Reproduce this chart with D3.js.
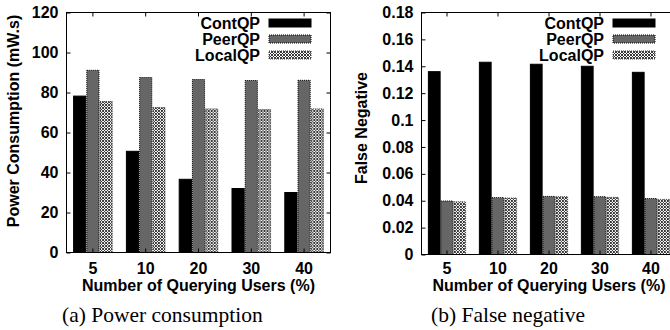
<!DOCTYPE html>
<html>
<head>
<meta charset="utf-8">
<script src="https://cdn.jsdelivr.net/npm/d3@7"></script>
<style>
  body { margin: 0; background: #fff; }
  svg { display: block; }
  .tick text, .lbl { font-family: "Liberation Sans", Arial, sans-serif; font-weight: bold; fill: #000; }
  .cap { font-family: "Liberation Serif", "Times New Roman", serif; fill: #000; }
</style>
</head>
<body>
<div id="graph"></div>
<script>
// categories and series
const categories = ["5", "10", "20", "30", "40"];
const seriesNames = ["ContQP", "PeerQP", "LocalQP"];

// (a) power consumption, mW.s
const powerCont = [78.2, 50.6, 36.6, 32.0, 30.0];
const powerPeer = [91.1, 87.5, 86.5, 86.0, 86.1];
const powerLocal = [75.5, 72.5, 71.8, 71.5, 71.8];
const powerTicks = [0, 20, 40, 60, 80, 100, 120];
const powerTickLabels = ["0", "20", "40", "60", "80", "100", "120"];

// (b) false negative
const fnCont = [0.136, 0.143, 0.1415, 0.140, 0.1355];
const fnPeer = [0.0398, 0.0423, 0.0432, 0.0430, 0.0416];
const fnLocal = [0.0392, 0.0420, 0.0430, 0.0425, 0.0410];
const fnTicks = [0, 0.02, 0.04, 0.06, 0.08, 0.1, 0.12, 0.14, 0.16, 0.18];
const fnTickLabels = ["0", "0.02", "0.04", "0.06", "0.08", "0.1", "0.12", "0.14", "0.16", "0.18"];

const width = 670, height = 330;
const fontSize = 16;

const svg = d3.select("#graph")
  .append("svg")
  .attr("width", width)
  .attr("height", height);

// fill patterns
const defs = svg.append("defs");
const pat = defs.append("pattern")
  .attr("id", "checker")
  .attr("patternUnits", "userSpaceOnUse")
  .attr("width", 3)
  .attr("height", 3);
pat.append("rect").attr("width", 3).attr("height", 3).attr("fill", "#fff");
pat.append("path").attr("d", "M0,0L3,3M3,0L0,3").attr("stroke", "#222").attr("stroke-width", 0.9);

const barStyle = {
  ContQP: { fill: "#000", stroke: "#000", dash: null },
  PeerQP: { fill: "#666", stroke: "#000", dash: "1,1" },
  LocalQP: { fill: "url(#checker)", stroke: "#444", dash: "1,1" }
};

function drawPanel(opt) {
  const g = svg.append("g");

  const x = d3.scaleBand()
    .domain(categories)
    .range([opt.left, opt.right])
    .paddingInner(0.25)
    .paddingOuter(0.125);

  const xs = d3.scaleBand()
    .domain(seriesNames)
    .range([0, x.bandwidth()]);

  const y = d3.scaleLinear()
    .domain(opt.domain)
    .range([opt.bottom, opt.top]);

  const rows = categories.map((c, i) => ({
    cat: c,
    vals: seriesNames.map((s, j) => ({ s: s, v: opt.series[j][i] }))
  }));

  // bars
  const grp = g.selectAll(".grp")
    .data(rows)
    .enter()
    .append("g")
    .attr("transform", d => "translate(" + x(d.cat) + ",0)");

  grp.selectAll("rect")
    .data(d => d.vals)
    .enter()
    .append("rect")
      .attr("x", d => xs(d.s) + 0.5)
      .attr("y", d => y(d.v))
      .attr("width", xs.bandwidth() - 1)
      .attr("height", d => y(0) - y(d.v))
      .attr("fill", d => barStyle[d.s].fill)
      .attr("stroke", d => barStyle[d.s].stroke)
      .attr("stroke-dasharray", d => barStyle[d.s].dash)
      .attr("stroke-width", 1);

  // axes, gnuplot style ticks pointing inward
  g.append("g")
    .attr("transform", "translate(" + opt.left + ",0)")
    .call(d3.axisLeft(y)
      .tickValues(opt.ticks)
      .tickFormat((d, i) => opt.tickLabels[i])
      .tickSizeInner(-4)
      .tickSizeOuter(0)
      .tickPadding(8));

  g.append("g")
    .attr("transform", "translate(" + opt.right + ",0)")
    .call(d3.axisRight(y).tickValues(opt.ticks).tickFormat("").tickSizeInner(-4).tickSizeOuter(0));

  const xAxis = g.append("g")
    .attr("transform", "translate(0," + opt.bottom + ")")
    .call(d3.axisBottom(x).tickSizeInner(-4).tickSizeOuter(0).tickPadding(0));

  // tick labels: baseline a little under the frame
  xAxis.selectAll(".tick text")
    .attr("y", 0)
    .attr("dy", null)
    .attr("transform", "translate(0," + (274 - opt.bottom) + ")");

  g.append("g")
    .attr("transform", "translate(0," + opt.top + ")")
    .call(d3.axisTop(x).tickFormat("").tickSizeInner(-4).tickSizeOuter(0));

  g.selectAll(".domain").remove();
  g.selectAll(".tick line").attr("stroke", "#000");
  g.selectAll(".tick text").attr("font-size", fontSize);

  // frame
  g.append("rect")
    .attr("x", opt.left)
    .attr("y", opt.top)
    .attr("width", opt.right - opt.left)
    .attr("height", opt.bottom - opt.top)
    .attr("fill", "none")
    .attr("stroke", "#000")
    .attr("stroke-width", 1);

  // axis titles
  g.append("text")
    .attr("class", "lbl")
    .attr("x", (opt.left + opt.right) / 2)
    .attr("y", 291)
    .attr("text-anchor", "middle")
    .attr("font-size", fontSize)
    .text("Number of Querying Users (%)");

  g.append("text")
    .attr("class", "lbl")
    .attr("transform", "translate(" + opt.ylabelX + "," + opt.ylabelY + ")rotate(-90)")
    .attr("text-anchor", "middle")
    .attr("font-size", fontSize)
    .text(opt.ylabel);

  // legend
  const lg = g.selectAll(".leg")
    .data(seriesNames)
    .enter()
    .append("g")
    .attr("transform", (d, i) => "translate(" + opt.legendX + "," + (opt.top + 10.5 + i * 16) + ")");

  lg.append("text")
    .attr("class", "lbl")
    .attr("x", 0)
    .attr("dy", "0.35em")
    .attr("text-anchor", "end")
    .attr("font-size", fontSize)
    .text(d => d);

  lg.append("rect")
    .attr("x", 9)
    .attr("y", -4)
    .attr("width", 42)
    .attr("height", 8)
    .attr("fill", d => barStyle[d].fill)
    .attr("stroke", d => barStyle[d].stroke)
    .attr("stroke-dasharray", d => barStyle[d].dash);

  // caption
  svg.append("text")
    .attr("class", "cap")
    .attr("x", opt.capX)
    .attr("y", 322)
    .attr("font-size", 21.5)
    .text(opt.caption);
}

drawPanel({
  left: 66.5, right: 330.5, top: 12.5, bottom: 252.5,
  domain: [0, 120],
  ticks: powerTicks, tickLabels: powerTickLabels,
  series: [powerCont, powerPeer, powerLocal],
  ylabel: "Power Consumption (mW.s)", ylabelX: 19, ylabelY: 121,
  legendX: 260,
  caption: "(a) Power consumption", capX: 62
});

drawPanel({
  left: 421.5, right: 676.5, top: 12.5, bottom: 254.5,
  domain: [0, 0.18],
  ticks: fnTicks, tickLabels: fnTickLabels,
  series: [fnCont, fnPeer, fnLocal],
  ylabel: "False Negative", ylabelX: 367, ylabelY: 128,
  legendX: 604,
  caption: "(b) False negative", capX: 431
});
</script>
</body>
</html>
